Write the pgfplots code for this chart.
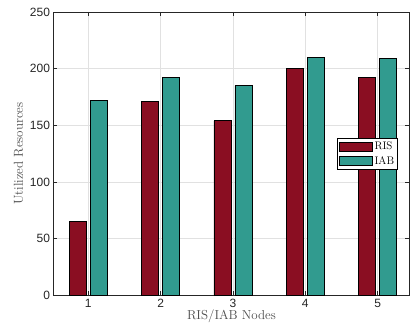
\documentclass[border=0pt]{standalone}
\usepackage{pgfplots}
\pgfplotsset{compat=1.18}
\usepackage{fontspec}
\newfontfamily\tickfont{Liberation Sans}
\definecolor{risc}{RGB}{138,14,34}
\definecolor{iabc}{RGB}{49,155,143}
\definecolor{axc}{RGB}{38,38,38}
\definecolor{gridc}{RGB}{225,225,225}
\begin{document}
\begin{tikzpicture}
\begin{axis}[
  name=ax,
  scale only axis,
  width=356pt, height=283.3pt,
  xmin=0.52, xmax=5.44,
  ymin=0, ymax=250,
  xtick={1,2,3,4,5},
  ytick={0,50,100,150,200,250},
  tick align=inside,
  major tick length=4pt,
  xtick pos=both, ytick pos=both,
  grid=major,
  major grid style={gridc, line width=0.6pt},
  axis line style={axc, line width=0.6pt},
  tick style={axc, line width=0.6pt},
  ticklabel style={font=\tickfont\fontsize{12}{13}\selectfont, text=axc},
  /pgf/number format/assume math mode=true,
  xlabel={RIS/IAB Nodes},
  ylabel={Utilized Resources},
  label style={font=\fontsize{13}{14}\selectfont, text=black!70},
  xlabel style={yshift=4pt},
  ylabel style={yshift=0pt},
  bar width=0.235,
  legend style={at={(0.796,0.555)}, anchor=north west, draw=black, line width=0.8pt,
    font=\fontsize{11}{12}\selectfont, inner sep=1.5pt, row sep=1pt,
    cells={anchor=west}},
  legend image code/.code={\draw[#1, line width=0.8pt] (0pt,-4.5pt) rectangle (33pt,4.5pt);},
]
\addplot[ybar, bar shift=-0.145, fill=risc, draw=black, line width=0.8pt] coordinates {(1,65) (2,171) (3,154) (4,200) (5,192)};
\addplot[ybar, bar shift=0.145, fill=iabc, draw=black, line width=0.8pt] coordinates {(1,172) (2,192) (3,185) (4,210) (5,209)};
\legend{RIS, IAB}
\end{axis}
\pgfresetboundingbox
\path[use as bounding box] ([xshift=-53.5pt,yshift=-37.7pt]ax.south west) rectangle ([xshift=0.5pt,yshift=12pt]ax.north east);
\end{tikzpicture}
\end{document}
